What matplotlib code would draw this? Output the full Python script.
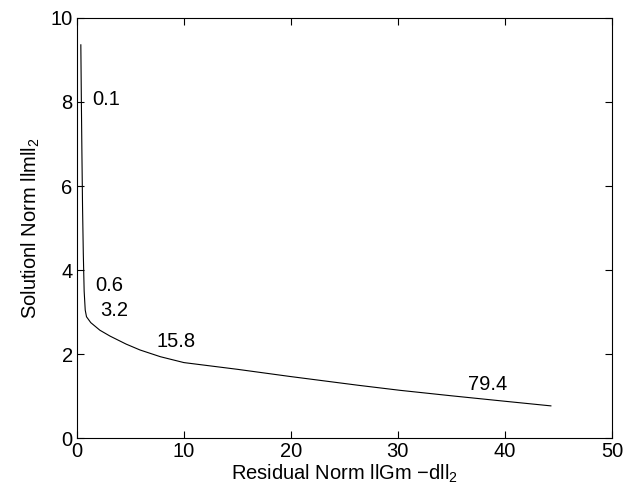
import matplotlib
matplotlib.use("Agg")
import matplotlib.pyplot as plt

plt.rcParams['font.family'] = ['Liberation Sans', 'DejaVu Sans']
plt.rcParams['mathtext.default'] = 'regular'

# L-curve
residual_norm = [0.37, 0.42, 0.47, 0.53, 0.6, 0.68, 0.78, 0.9, 1.3, 2.15, 3.1, 4.6, 5.9, 7.8, 10.0,
                 15.0, 19.9, 26.3, 30.2, 35.0, 40.0, 44.3]
solution_norm = [9.36, 8.0, 6.8, 5.5, 4.4, 3.5, 3.05, 2.89, 2.75, 2.57, 2.43, 2.24, 2.1, 1.94, 1.80,
                 1.64, 1.47, 1.26, 1.14, 1.01, 0.88, 0.77]

# regularisation parameter labels
alpha_labels = ['0.1', '0.6', '3.2', '15.8', '79.4']
label_x = [1.4, 1.75, 2.2, 7.4, 36.6]
label_y = [8.05, 3.64, 3.05, 2.29, 1.29]

fig, ax = plt.subplots(figsize=(6.25, 4.98), dpi=100)
fig.subplots_adjust(left=0.123, right=0.979, top=0.964, bottom=0.12)

ax.plot(residual_norm, solution_norm, color='black', linewidth=0.8)
for txt, x, y in zip(alpha_labels, label_x, label_y):
    ax.text(x, y, txt, fontsize=14.5, ha='left', va='center')

ax.set_xlim(0, 50)
ax.set_ylim(0, 10)
ax.set_xticks(range(0, 51, 10))
ax.set_yticks(range(0, 11, 2))
ax.tick_params(direction='in', top=True, right=True, labelsize=14.5, length=5, pad=3)
ax.set_xlabel('Residual Norm llGm \u2212dll$_2$', fontsize=14.5, labelpad=1)
ax.set_ylabel('Solutionl Norm llmll$_2$', fontsize=14.5, labelpad=6)

plt.savefig('out.png', dpi=100)
plt.close()
